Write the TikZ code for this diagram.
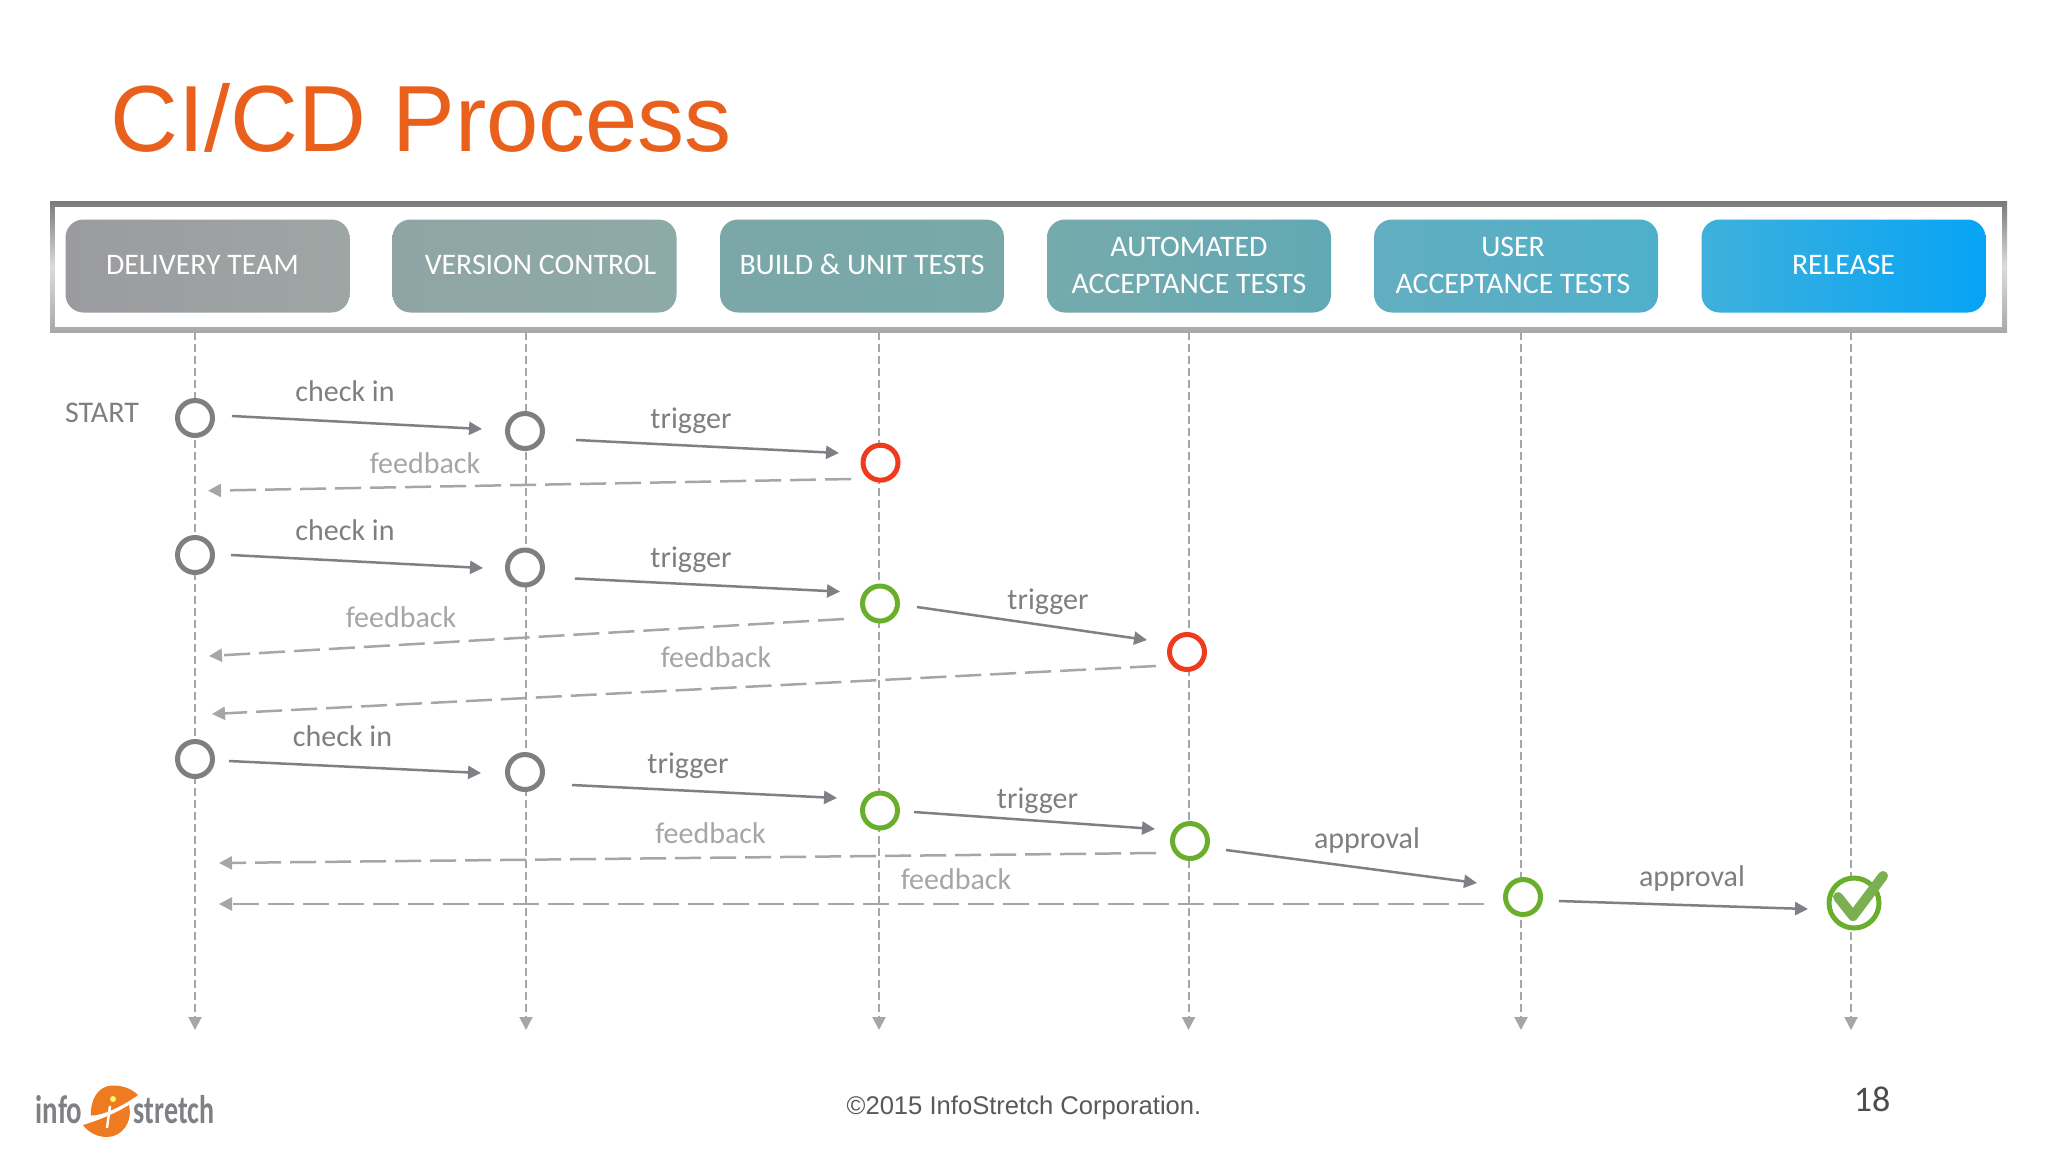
\documentclass[tikz,border=0pt]{standalone}
\usepackage{fontspec}
\setmainfont{Carlito}
\newfontfamily\arialf{Liberation Sans}
\usetikzlibrary{arrows.meta}
\definecolor{titleor}{HTML}{E8601C}
\definecolor{solidg}{HTML}{7F7F85}
\definecolor{dashg}{HTML}{A6A6A8}
\definecolor{greenc}{HTML}{6AAF2C}
\definecolor{redc}{HTML}{F03A1E}
\definecolor{greyc}{HTML}{7F7F7F}
\definecolor{logoor}{HTML}{EE7B22}
\definecolor{logog}{HTML}{808084}
\definecolor{tickg}{HTML}{7AB04F}
\definecolor{ha}{HTML}{9B9B9F}\definecolor{hb}{HTML}{9EA6A4}
\definecolor{hc}{HTML}{8FA5A5}\definecolor{hd}{HTML}{8EAAA7}
\definecolor{he}{HTML}{7BA7A8}\definecolor{hf}{HTML}{78A9A8}
\definecolor{hg}{HTML}{76AAAC}\definecolor{hh}{HTML}{61A9B5}
\definecolor{hi}{HTML}{62AEC0}\definecolor{hj}{HTML}{4FAFCB}
\definecolor{hk}{HTML}{3FB0DC}\definecolor{hl}{HTML}{06A4F5}
\tikzset{
  hdr/.style={rounded corners=9pt,minimum width=142pt,minimum height=46.5pt,inner sep=0pt,
    text=white,align=center,font=\fontsize{14.9}{18}\selectfont},
  st/.style={circle,draw,fill=white,line width=2.5pt,minimum size=17.5pt,inner sep=0pt},
  sgrey/.style={st,draw=greyc},
  sred/.style={st,draw=redc},
  sgrn/.style={st,draw=greenc},
  life/.style={draw=dashg,line width=1pt,dash pattern=on 4pt off 2pt,-{Triangle[length=6.5pt,width=6.5pt]}},
  flow/.style={draw=solidg,line width=1.25pt,-{Triangle[length=6.5pt,width=6.5pt]}},
  back/.style={draw=dashg,line width=1.25pt,dash pattern=on 13pt off 4.5pt,-{Triangle[length=6.5pt,width=6.5pt]}},
  lab/.style={inner sep=0pt,text=greyc,font=\fontsize{15}{17}\selectfont},
  fb/.style={lab,text=dashg},
  logot/.style={inner sep=0pt,text=logog,font=\bfseries\fontsize{20}{22}\selectfont}
}
\begin{document}
\begin{tikzpicture}[x=0.5pt,y=-0.5pt]
\path[use as bounding box,fill=white] (0,0) rectangle (2048,1152);

% title
\node[anchor=base west,inner sep=0pt,text=titleor,font=\arialf\fontsize{47}{50}\selectfont] (title) at (110,151.5) {CI/CD Process};

% frame
\shade[top color=black!52,bottom color=black!34,middle color=black!14] (50,201.5) rectangle (2007,332);
\fill[white] (55,206.5) rectangle (2002,327);

% headers
\node[hdr,left color=ha,right color=hb] (h1) at (207.5,266) {\hspace*{-5pt}\raisebox{1pt}{DELIVERY TEAM}};
\node[hdr,left color=hc,right color=hd] (h2) at (534.5,266) {\hspace*{6pt}\raisebox{1pt}{VERSION CONTROL}};
\node[hdr,left color=he,right color=hf] (h3) at (862,266) {\raisebox{1.7pt}{BUILD \& UNIT TESTS}};
\node[hdr,left color=hg,right color=hh] (h4) at (1189,266) {\raisebox{.7pt}{AUTOMATED}\\\raisebox{.3pt}{ACCEPTANCE TESTS}};
\node[hdr,left color=hi,right color=hj] (h5) at (1516,266) {\hspace*{-3pt}\raisebox{1.2pt}{USER}\\\hspace*{-3pt}\raisebox{.7pt}{ACCEPTANCE TESTS}};
\node[hdr,left color=hk,right color=hl] (h6) at (1843.5,266) {\raisebox{1pt}{RELEASE}};

% lifelines
\coordinate (t1) at (195,332); \coordinate (e1) at (195,1030);
\coordinate (t2) at (526,332); \coordinate (e2) at (526,1030);
\coordinate (t3) at (879,332); \coordinate (e3) at (879,1030);
\coordinate (t4) at (1188.5,332); \coordinate (e4) at (1188.5,1030);
\coordinate (t5) at (1521,332); \coordinate (e5) at (1521,1030);
\coordinate (t6) at (1851,332); \coordinate (e6) at (1851,1030);
\foreach \i in {1,...,6} \draw[life] (t\i) -- (e\i);

% states
\node[sgrey] (a1) at (195,418) {};
\node[sgrey] (b1) at (525,431) {};
\node[sred]  (c1) at (880.5,462.7) {};
\node[sgrey] (a2) at (195,555) {};
\node[sgrey] (b2) at (525,567.5) {};
\node[sgrn]  (c2) at (880,603.5) {};
\node[sred]  (d2) at (1187,652) {};
\node[sgrey] (a3) at (195,759) {};
\node[sgrey] (b3) at (525,772) {};
\node[sgrn]  (c3) at (880,810.5) {};
\node[sgrn]  (d3) at (1190,841) {};
\node[sgrn]  (e3n) at (1523,897) {};
\node[sgrn,minimum size=25pt] (f3) at (1854,903) {};
\draw[tickg,line width=5pt,line cap=round,line join=round]
  ([shift={(-16,-6)}]f3.center) -- ([shift={(-1,13)}]f3.center) -- ([shift={(29,-27)}]f3.center);

% connectors
\draw[flow] ([shift={(37,-2)}]a1.center) -- ([shift={(-43,-2)}]b1.center);
\draw[flow] ([shift={(51,9)}]b1.center) -- ([shift={(-41.5,-9.7)}]c1.center);
\draw[back] ([shift={(-29.5,16.3)}]c1.center) -- ([shift={(13,72.7)}]a1.center);
\draw[flow] ([shift={(36,0)}]a2.center) -- ([shift={(-42,0.5)}]b2.center);
\draw[flow] ([shift={(50,11)}]b2.center) -- ([shift={(-40,-11.9)}]c2.center);
\draw[flow] ([shift={(37,3.5)}]c2.center) -- ([shift={(-40,-12)}]d2.center);
\draw[back] ([shift={(-36,15.5)}]c2.center) -- ([shift={(14,101)}]a2.center);
\draw[back] ([shift={(-31,14)}]d2.center) -- ([shift={(17,159)}]a2.center);
\draw[flow] ([shift={(34,2)}]a3.center) -- ([shift={(-44,1)}]b3.center);
\draw[flow] ([shift={(47,13)}]b3.center) -- ([shift={(-43,-12.5)}]c3.center);
\draw[flow] ([shift={(34,1.5)}]c3.center) -- ([shift={(-35,-12)}]d3.center);
\draw[back] ([shift={(-34,12)}]d3.center) -- ([shift={(24,104)}]a3.center);
\draw[flow] ([shift={(36,9)}]d3.center) -- ([shift={(-46,-14)}]e3n.center);
\draw[back] ([shift={(-39,7)}]e3n.center) -- ([shift={(24,145)}]a3.center);
\draw[flow] ([shift={(36,4)}]e3n.center) -- ([shift={(-46,6)}]f3.center);

% labels
\node[lab] (start) at (102,412.5) {START};
\node[lab] (l1) at (345,391.5) {check in};
\node[lab] (l2) at (691,421) {trigger};
\node[fb]  (l3) at (425,463.5) {feedback};
\node[lab] (l4) at (345,530) {check in};
\node[lab] (l5) at (691,560) {trigger};
\node[fb]  (l6) at (401,617.5) {feedback};
\node[lab] (l7) at (1048,601.5) {trigger};
\node[fb]  (l8) at (716,657.5) {feedback};
\node[lab] (l9) at (342.5,736.5) {check in};
\node[lab] (l10) at (688,766) {trigger};
\node[fb]  (l11) at (710.5,833) {feedback};
\node[lab] (l12) at (1037.5,801) {trigger};
\node[lab] (l13) at (1367,840.5) {approval};
\node[fb]  (l14) at (956,879) {feedback};
\node[lab] (l15) at (1692,878) {approval};

% footer
\node[inner sep=0pt,text=black!65,font=\arialf\fontsize{12.8}{16}\selectfont] (copy) at (1024,1107.5) {©2015 InfoStretch Corporation.};
\node[inner sep=0pt,text=black!70,font=\fontsize{18}{20}\selectfont] (pg) at (1872,1099) {18};

% logo
\fill[logoor] (138,1095) .. controls (130,1087) and (120,1085.5) .. (112,1085.5)
  .. controls (98,1086) and (90,1100) .. (91,1115.5)
  .. controls (100,1116) and (120,1108) .. (138,1095) -- cycle;
\fill[logoor] (83,1125) .. controls (100,1120) and (118,1112) .. (129,1105)
  .. controls (133,1122) and (122,1137) .. (107,1137)
  .. controls (97,1137) and (88,1132) .. (83,1125) -- cycle;
\draw[white,line width=1.2pt] (110,1106) -- (107,1128);
\fill[yellow!60!white] (113,1099) circle (3);
\node[logot,xscale=.72] (lg1) at (59,1110) {info};
\node[logot,xscale=.70] (lg2) at (174,1110) {stretch};
\end{tikzpicture}
\end{document}
